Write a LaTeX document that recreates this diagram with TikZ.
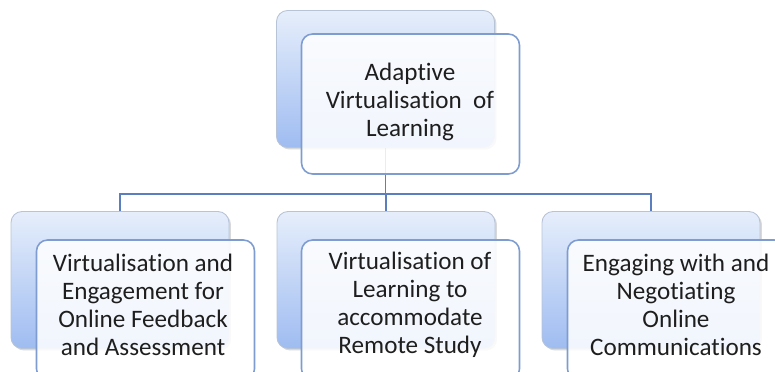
\documentclass[tikz,border=0pt]{standalone}
\usepackage{fontspec}
\setmainfont[Ligatures=NoCommon]{Carlito}
\usetikzlibrary{shadows}
\definecolor{backtop}{HTML}{E6EEFB}
\definecolor{backbot}{HTML}{9FBCF1}
\definecolor{backedge}{HTML}{B7C3D6}
\definecolor{frontedge}{HTML}{7E9CD0}
\definecolor{connc}{HTML}{5B7FBE}
\definecolor{txt}{HTML}{1E1E1E}
\begin{document}
\begin{tikzpicture}[x=0.02cm,y=-0.02cm,
  backbox/.style={draw=backedge, line width=0.5pt, rounded corners=0.22cm,
    top color=backtop, bottom color=backbot, minimum width=4.36cm, minimum height=2.74cm,
    inner sep=0pt, drop shadow={shadow xshift=0.04cm, shadow yshift=-0.04cm, opacity=0.25, fill=black!60}},
  frontbox/.style={draw=frontedge, line width=0.9pt, rounded corners=0.22cm,
    fill=white, fill opacity=0.86, text opacity=1, minimum width=4.36cm, minimum height=2.8cm,
    inner sep=0pt},
  lbl/.style={align=center, text=txt, font=\fontsize{14.3}{16}\selectfont},
  conn/.style={draw=connc, line width=0.6pt}]
\useasboundingbox (0,0) rectangle (775,372);
\clip (0,0) rectangle (775,372);
% back boxes
\node[backbox] (backT) at (385.5,79) {};
\node[backbox] (backL) at (120,280) {};
\node[backbox] (backM) at (386,280) {};
\node[backbox] (backR) at (651,280) {};
% connectors
\coordinate (bus) at (386,194);
\draw[conn] (backT.south) -- (backT.south |- bus);
\draw[conn] (backL.north) |- (backR.north |- bus) -- (backR.north);
\draw[conn] (backM.north) -- (backM.north |- bus);
% front boxes
\node[frontbox] (frontT) at (410.5,104) {};
\node[frontbox] (frontL) at (145.5,310) {};
\node[frontbox] (frontM) at (410.5,310) {};
\node[frontbox] (frontR) at (676.5,310) {};
% labels
\node[lbl] (tT) at (410,102) {Adaptive\\Virtualisation\ \ of\\Learning};
\node[lbl] (tL) at (143,305) {Virtualisation and\\Engagement for\\Online Feedback\\and Assessment};
\node[lbl] (tM) at (410,305) {Virtualisation of\\Learning to\\accommodate\\Remote Study};
\node[lbl] (tR) at (676,305) {Engaging with and\\Negotiating\\Online\\Communications};
\end{tikzpicture}
\end{document}
